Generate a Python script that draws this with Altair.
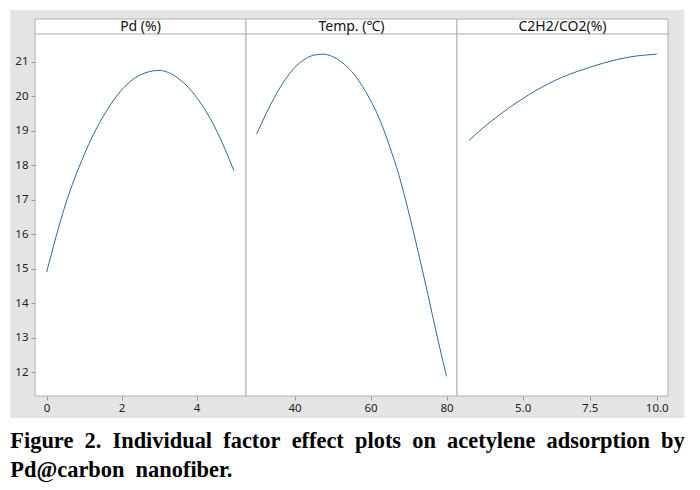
import altair as alt
import pandas as pd

# ---- data ----
headers = ["Pd (%)", "Temp. (℃)", "C2H2/CO2(%)"]

pd_x = [0, 0.5, 1, 1.5, 2, 2.5, 3, 3.5, 4, 4.5, 5]
pd_y = [14.9, 16.85, 18.3, 19.4, 20.18, 20.62, 20.75, 20.53, 19.97, 19.08, 17.84]

temp_x = [30, 32.5, 35, 37.5, 40, 42.5, 45, 47.5, 50, 52.5, 55, 57.5, 60, 62.5, 65, 67.5, 70, 72.5, 75, 77.5, 80]
temp_y = [18.9, 19.5, 20.03, 20.48, 20.83, 21.06, 21.19, 21.22, 21.15, 20.98, 20.72, 20.35, 19.88, 19.3, 18.55, 17.7, 16.65, 15.5, 14.3, 13.05, 11.88]

ratio_x = [3, 3.5, 4, 4.5, 5, 5.5, 6, 6.5, 7, 7.5, 8, 8.5, 9, 9.5, 10]
ratio_y = [18.72, 19.07, 19.38, 19.67, 19.93, 20.17, 20.38, 20.56, 20.71, 20.84, 20.96, 21.06, 21.14, 21.19, 21.22]

x_ticks = [[0, 2, 4], [40, 60, 80], [5.0, 7.5, 10.0]]
x_formats = ["d", "d", ".1f"]
x_domains = [[-0.31, 5.32], [27.2, 82.75], [2.55, 10.42]]
y_ticks = [12, 13, 14, 15, 16, 17, 18, 19, 20, 21]
y_domain = [11.31, 22.24]

captions = ["Figure 2. Individual factor effect plots on acetylene adsorption by",
            "Pd@carbon nanofiber."]

W, H = 211, 377
GRAY = "#e4e4e4"
LINE = "#2e6a98"
AX = dict(labelFont="Noto Sans", labelFontSize=11.5, labelColor="#222",
          tickColor="#999999", tickSize=4, domain=False, grid=False,
          zindex=1, title=None)


def panel(xs, ys, header, dom, ticks, fmt, first=False, last=False):
    df = pd.DataFrame({"x": xs, "y": ys})
    one = pd.DataFrame({"h": [header]})
    left = -24.7 if first else 0
    right = W + 16.3 if last else W
    bg = alt.Chart(one).mark_rect(color=GRAY).encode(
        x=alt.value(left), x2=alt.value(right), y=alt.value(-9), y2=alt.value(399))
    frame = alt.Chart(one).mark_rect(fill="white", stroke="#b0b0b0", strokeWidth=1).encode(
        x=alt.value(0), x2=alt.value(W), y=alt.value(0), y2=alt.value(H))
    hline = alt.Chart(one).mark_rule(color="#a8a8a8", strokeWidth=1).encode(
        x=alt.value(0), x2=alt.value(W), y=alt.value(15))
    htext = alt.Chart(one).mark_text(fontSize=14, font="Noto Sans", color="#111",
                                     baseline="middle").encode(
        text="h:N", x=alt.value(W / 2), y=alt.value(7.5))
    if first:
        yax = alt.Axis(values=y_ticks, labelPadding=3, **AX)
    else:
        yax = None
    line = alt.Chart(df).mark_line(color=LINE, strokeWidth=1, interpolate="monotone").encode(
        x=alt.X("x:Q", scale=alt.Scale(domain=dom, nice=False, zero=False),
                axis=alt.Axis(values=ticks, format=fmt, labelPadding=2, **AX)),
        y=alt.Y("y:Q", scale=alt.Scale(domain=y_domain, nice=False, zero=False),
                axis=yax),
    )
    return alt.layer(bg, frame, hline, htext, line).properties(width=W, height=H)


p1 = panel(pd_x, pd_y, headers[0], x_domains[0], x_ticks[0], x_formats[0], first=True)
p2 = panel(temp_x, temp_y, headers[1], x_domains[1], x_ticks[1], x_formats[1])
p3 = panel(ratio_x, ratio_y, headers[2], x_domains[2], x_ticks[2], x_formats[2], last=True)

row = alt.hconcat(p1, p2, p3, spacing=0, bounds="flush")

cap_layers = []
for i, txt in enumerate(captions):
    shown = txt.replace(" ", "\u2002")
    cap_layers.append(
        alt.Chart(pd.DataFrame({"t": [shown]})).mark_text(
            font="Liberation Serif", fontWeight="bold", fontSize=22.4, color="black",
            align="left", baseline="alphabetic").encode(
            text="t:N", x=alt.value(-24.7), y=alt.value(23 + 29 * i)))
cap = alt.layer(*cap_layers).properties(width=640, height=50)

chart = alt.vconcat(row, cap, spacing=7).properties(
    padding={"left": 2, "top": 2, "right": 0, "bottom": 0},
    background="white",
).configure_view(strokeWidth=0)

chart.save("out.html", embed_options={"renderer": "svg", "actions": False})
